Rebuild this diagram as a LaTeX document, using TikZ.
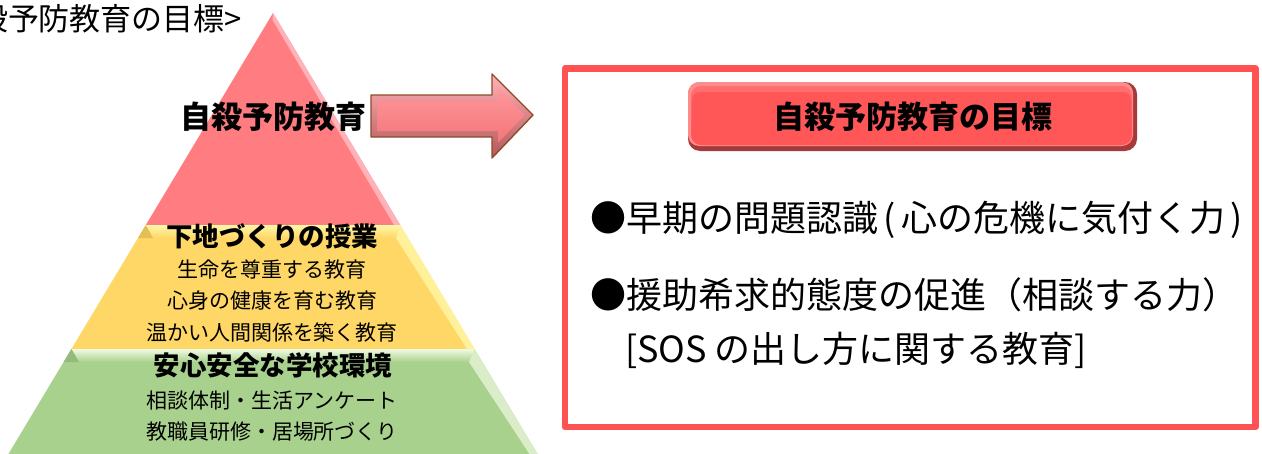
\documentclass[tikz,border=0pt]{standalone}
\usepackage{fontspec}
\setmainfont{Noto Sans CJK JP}
\definecolor{pyrRed}{HTML}{FF7C80}
\definecolor{pyrRedLight}{HTML}{FFB3B8}
\definecolor{pyrYellow}{HTML}{FFD766}
\definecolor{pyrYellowLight}{HTML}{FFF7A8}
\definecolor{pyrYellowDark}{HTML}{E6BE58}
\definecolor{pyrGreen}{HTML}{A9D18E}
\definecolor{pyrGreenLight}{HTML}{EFFAE2}
\definecolor{pyrGreenDark}{HTML}{94BA7C}
\definecolor{frameRed}{HTML}{FF5353}
\definecolor{titleRed}{HTML}{FF5757}
\definecolor{titleLight}{HTML}{FF8C8C}
\definecolor{titleDark}{HTML}{A63A3A}
\definecolor{arrowEdge}{HTML}{8E4A2A}
\begin{document}
\begin{tikzpicture}[x=1pt,y=-1pt,line join=round,
  lbl/.style={inner sep=0pt,outer sep=0pt,text=black},
  bigbold/.style={lbl,font=\fontsize{31}{36}\selectfont\bfseries},
  midbold/.style={lbl,font=\fontsize{26.5}{32}\selectfont\bfseries},
  small/.style={lbl,font=\fontsize{21}{25}\selectfont},
  bullettext/.style={lbl,anchor=west,font=\fontsize{36}{42}\selectfont}]
\useasboundingbox (0,0) rectangle (1262,453);
\clip (0,0) rectangle (1262,453);

% ---------- pyramid ----------
\fill[pyrRed] (273,13) -- (400.2,225) -- (145.8,225) -- cycle;
\fill[pyrRedLight] (273,13) -- (400.2,225) -- (394,225) -- (272.5,20) -- cycle;

\fill[pyrYellow] (145.8,225) -- (400.2,225) -- (474.6,349) -- (71.4,349) -- cycle;
\shade[top color=pyrYellowLight,bottom color=pyrYellow] (145.8,225) -- (400.2,225) -- (396,238) -- (153,238) -- cycle;
\fill[pyrYellowDark] (145.8,225) -- (153,238) -- (138,238) -- cycle;
\fill[pyrYellowLight,opacity=0.8] (400.2,225) -- (474.6,349) -- (467,349) -- (396,238) -- cycle;

\fill[pyrGreen] (71.4,349) -- (474.6,349) -- (547.2,470) -- (-1.2,470) -- cycle;
\shade[top color=pyrGreenLight,bottom color=pyrGreen] (71.4,349) -- (474.6,349) -- (469,362) -- (79,362) -- cycle;
\fill[pyrGreenDark] (71.4,349) -- (79,362) -- (63.6,362) -- cycle;
\fill[pyrGreenLight,opacity=0.7] (474.6,349) -- (547.2,470) -- (540,470) -- (469,362) -- cycle;

% ---------- arrow ----------
\shade[top color=pyrRedLight,middle color=pyrRed,bottom color=pyrRed!70!black]
  (371,95) -- (492,95) -- (492,74) -- (533,115) -- (492,158) -- (492,137) -- (371,137) -- cycle;
\shade[top color=pyrRed!80!white,bottom color=pyrRed!95!black]
  (377,101) -- (498,101) -- (498,88.5) -- (524.6,115.1) -- (498,143) -- (498,131) -- (377,131) -- cycle;
\draw[arrowEdge,line width=1.4]
  (371,95) -- (492,95) -- (492,74) -- (533,115) -- (492,158) -- (492,137) -- (371,137) -- cycle;

% ---------- pyramid texts ----------
\node[lbl,anchor=west,font=\fontsize{31}{36}\selectfont] (head) at (-23,19) {殺予防教育の目標>};
\node[bigbold] (top) at (273,117) {自殺予防教育};
\node[midbold] (mid) at (272,236) {下地づくりの授業};
\node[small] (m1) at (272,270) {生命を尊重する教育};
\node[small] (m2) at (272,301) {心身の健康を育む教育};
\node[small] (m3) at (272,332) {温かい人間関係を築く教育};
\node[midbold] (base) at (273,365) {安心安全な学校環境};
\node[small] (b1) at (272,401) {相談体制・生活アンケート};
\node[small] (b2) at (272,432) {教職員研修・居場所づくり};

% ---------- right frame ----------
\draw[frameRed,line width=6.5] (565,68.5) rectangle (1255.5,427);

\fill[titleDark,rounded corners=12] (688,82) rectangle (1137,151);
\fill[titleLight,rounded corners=11] (688,82) rectangle (1133,146);
\shade[rounded corners=10,top color=titleRed!85!white,bottom color=titleRed] (691,86) rectangle (1132,145);
\fill[titleRed,rounded corners=8] (692,92) rectangle (1131,144);
\node[bigbold] (goal) at (913,117) {自殺予防教育の目標};

\node[bullettext] (g1) at (590,220) {●早期の問題認識\makebox[0.65em][c]{(}心の危機に気付く力\makebox[0.65em][c]{)}};
\node[bullettext] (g2) at (590,295) {●援助希求的態度の促進（相談する力）};
\node[bullettext] (g3) at (625,350) {[SOS の出し方に関する教育]};
\end{tikzpicture}
\end{document}
